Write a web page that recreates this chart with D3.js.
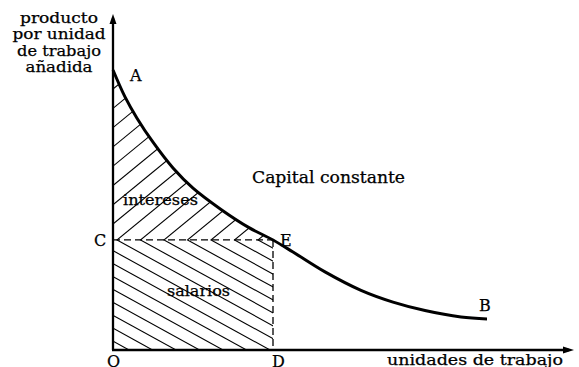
<!DOCTYPE html>
<html>
<head>
<meta charset="utf-8">
<script src="https://cdn.jsdelivr.net/npm/d3@7/dist/d3.min.js"></script>
<style>
  html, body { margin: 0; padding: 0; background: #fff; }
  svg { display: block; }
  text { font-family: "DejaVu Serif", "Liberation Serif", serif; fill: #000; stroke: #000; stroke-width: 0.25px; }
</style>
</head>
<body>
<svg id="chart" width="579" height="367"></svg>
<script>
// ---- data ----
const laborUnits = [0, 0.3, 0.6, 1, 1.5, 2, 2.7, 3.4, 4, 4.5, 5.3, 6.2, 7, 7.8, 8.7, 9.35];
const marginalProduct = [10, 9.04, 8.28, 7.42, 6.5, 5.78, 5.02, 4.37, 3.93, 3.5, 2.79, 2.13, 1.71, 1.41, 1.18, 1.11];
const laborEmployed = 4;      // D
const wageLevel = 3.93;       // C / E
const yAxisTitle = ["producto", "por unidad", "de trabajo", "añadida"];
const xAxisTitle = "unidades de trabajo";
const curveTitle = "Capital constante";
const areaLabels = ["intereses", "salarios"];
const pointNames = ["A", "B", "C", "D", "E", "O"];

const svg = d3.select("#chart");
const x = d3.scaleLinear().domain([0, 11.5]).range([113, 573]);
const y = d3.scaleLinear().domain([0, 12]).range([350, 14]);

const pts = laborUnits.map((u, i) => ({u, p: marginalProduct[i]}));
const curveGen = d3.line().x(d => x(d.u)).y(d => y(d.p)).curve(d3.curveCatmullRom);

// clip regions
const defs = svg.append("defs");
const upperPts = pts.filter(d => d.u <= laborEmployed);
const areaGen = d3.area().x(d => x(d.u)).y0(y(wageLevel)).y1(d => y(d.p)).curve(d3.curveCatmullRom);
defs.append("clipPath").attr("id", "clipUpper").append("path").attr("d", areaGen(upperPts));
defs.append("clipPath").attr("id", "clipLower").append("rect")
  .attr("x", x(0)).attr("y", y(wageLevel))
  .attr("width", x(laborEmployed) - x(0)).attr("height", y(0) - y(wageLevel));

// hatching
const ax0 = x(0) + 4, ay0 = y(wageLevel), step = 23.5;
const ks = d3.range(-20, 25);
const gU = svg.append("g").attr("clip-path", "url(#clipUpper)");
gU.selectAll("line").data(ks).join("line")
  .attr("x1", k => ax0 + k * step - 400).attr("y1", ay0 + 400 * 0.82)
  .attr("x2", k => ax0 + k * step + 400).attr("y2", ay0 - 400 * 0.82)
  .attr("stroke", "#000").attr("stroke-width", 1.1);
const gL = svg.append("g").attr("clip-path", "url(#clipLower)");
gL.selectAll("line").data(ks).join("line")
  .attr("x1", k => ax0 + k * step - 400).attr("y1", ay0 - 400 * 0.55)
  .attr("x2", k => ax0 + k * step + 400).attr("y2", ay0 + 400 * 0.55)
  .attr("stroke", "#000").attr("stroke-width", 1.1);

// dashed lines C-E and E-D
svg.append("line")
  .attr("x1", x(0)).attr("y1", y(wageLevel)).attr("x2", x(laborEmployed)).attr("y2", y(wageLevel))
  .attr("stroke", "#000").attr("stroke-width", 1.3).attr("stroke-dasharray", "7,4");
svg.append("line")
  .attr("x1", x(laborEmployed)).attr("y1", y(wageLevel)).attr("x2", x(laborEmployed)).attr("y2", y(0))
  .attr("stroke", "#000").attr("stroke-width", 1.3).attr("stroke-dasharray", "7,4");

// axes
svg.append("line").attr("x1", x(0)).attr("y1", y(0)).attr("x2", x(0)).attr("y2", y(12) + 4)
  .attr("stroke", "#000").attr("stroke-width", 2.3);
svg.append("line").attr("x1", x(0) - 1).attr("y1", y(0)).attr("x2", x(11.5) - 4).attr("y2", y(0))
  .attr("stroke", "#000").attr("stroke-width", 2.3);
svg.append("path")
  .attr("d", `M${x(0)},${y(12)} L${x(0) - 3.5},${y(12) + 10} L${x(0) + 3.5},${y(12) + 10} Z`)
  .attr("fill", "#000");
svg.append("path")
  .attr("d", `M${x(11.5) + 1},${y(0)} L${x(11.5) - 10},${y(0) - 3.5} L${x(11.5) - 10},${y(0) + 3.5} Z`)
  .attr("fill", "#000");

// curve
svg.append("path").attr("d", curveGen(pts))
  .attr("fill", "none").attr("stroke", "#000").attr("stroke-width", 3);

// texts
function label(txt, px, py, size, len, anchor) {
  const t = svg.append("text").attr("x", px).attr("y", py)
    .attr("font-size", size).attr("text-anchor", anchor || "start").text(txt);
  if (len) t.attr("textLength", len).attr("lengthAdjust", "spacingAndGlyphs");
  return t;
}
const ytLens = [78, 93, 84, 67];
const ytBase = [22.5, 39, 55.5, 72];
yAxisTitle.forEach((s, i) => label(s, 59, ytBase[i], 15, ytLens[i], "middle"));
label(xAxisTitle, 387, 365, 15, 176);
label(curveTitle, 252, 183, 16, 153);
label(areaLabels[0], 123, 205, 15, 75);
label(areaLabels[1], 167, 296, 15, 63);

const last = pts[pts.length - 1];
const namePos = {
  A: [x(0) + 17, y(marginalProduct[0]) + 11],
  B: [x(last.u) - 8, y(last.p) - 8],
  C: [x(0) - 19, y(wageLevel) + 6],
  D: [x(laborEmployed) - 1, y(0) + 17],
  E: [x(laborEmployed) + 7, y(wageLevel) + 6],
  O: [x(0) - 6, y(0) + 17]
};
pointNames.forEach(n => label(n, namePos[n][0], namePos[n][1], 16));
</script>
</body>
</html>
